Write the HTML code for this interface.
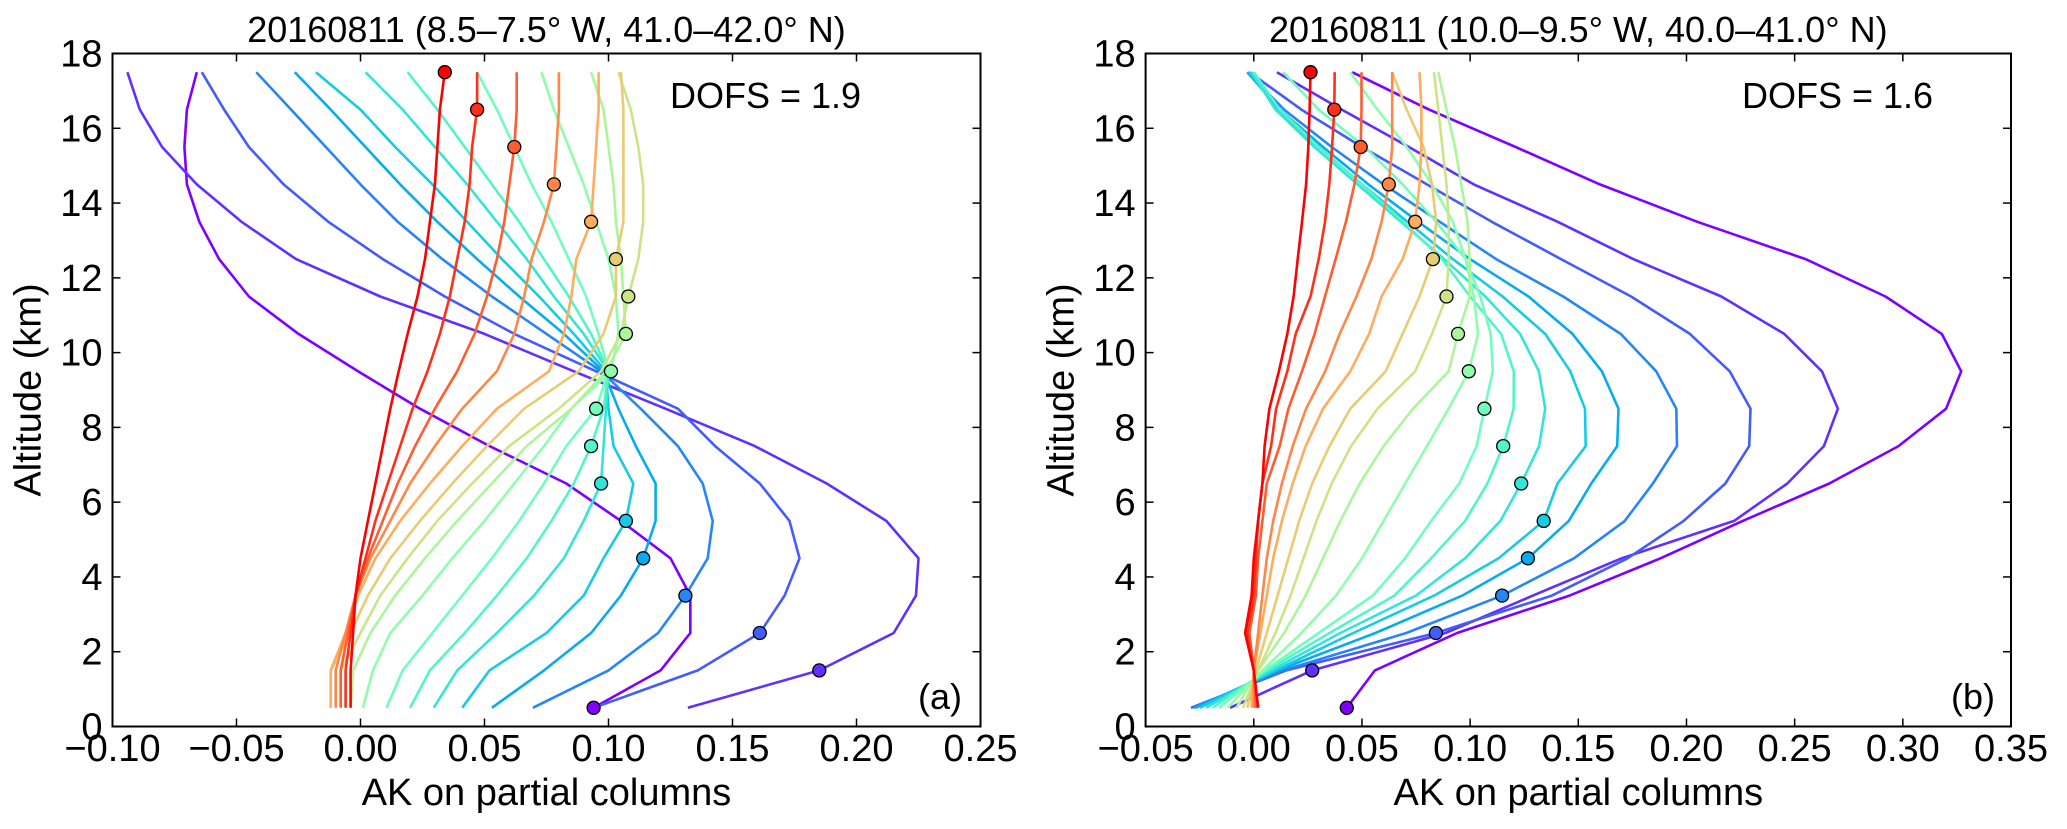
<!DOCTYPE html>
<html><head><meta charset="utf-8"><style>
html,body{margin:0;padding:0;background:#fff;}
svg{display:block;font-family:"Liberation Sans",sans-serif;}
</style></head><body>
<svg id="chart" width="2067" height="829" viewBox="0 0 2067 829" xmlns="http://www.w3.org/2000/svg"></svg>
<script>
// altitude levels (km)
const altitudes = [0.5,1.5,2.5,3.5,4.5,5.5,6.5,7.5,8.5,9.5,10.5,11.5,12.5,13.5,14.5,15.5,16.5,17.5];
const yTicks = [0,2,4,6,8,10,12,14,16,18];
const xTicksA = [-0.10,-0.05,0.00,0.05,0.10,0.15,0.20,0.25];
const xTicksB = [-0.05,0.00,0.05,0.10,0.15,0.20,0.25,0.30,0.35];
const xTickLabelsA = ["\u22120.10","\u22120.05","0.00","0.05","0.10","0.15","0.20","0.25"];
const xTickLabelsB = ["\u22120.05","0.00","0.05","0.10","0.15","0.20","0.25","0.30","0.35"];
// panel (a) kernels, index = kernel level
const kernelsA = [
[0.094,0.121,0.133,0.133,0.125,0.105,0.083,0.052,0.024,-0.001,-0.025,-0.045,-0.057,-0.065,-0.070,-0.071,-0.070,-0.066],
[0.132,0.185,0.215,0.224,0.225,0.212,0.188,0.159,0.123,0.086,0.050,0.008,-0.026,-0.048,-0.066,-0.080,-0.089,-0.094],
[0.094,0.136,0.161,0.171,0.177,0.173,0.161,0.143,0.128,0.095,0.062,0.034,0.009,-0.013,-0.031,-0.045,-0.055,-0.064],
[0.0695,0.100,0.120,0.131,0.140,0.142,0.138,0.128,0.113,0.097,0.075,0.053,0.033,0.015,0.000,-0.014,-0.028,-0.042],
[0.053,0.074,0.093,0.105,0.114,0.119,0.119,0.111,0.104,0.098,0.082,0.064,0.047,0.031,0.016,0.002,-0.012,-0.0265],
[0.041,0.052,0.075,0.090,0.098,0.107,0.110,0.102,0.100,0.099,0.086,0.072,0.057,0.043,0.029,0.014,0.000,-0.018],
[0.0295,0.039,0.055,0.070,0.082,0.090,0.097,0.098,0.099,0.100,0.090,0.078,0.067,0.055,0.043,0.030,0.017,0.002],
[0.020,0.028,0.042,0.055,0.067,0.077,0.086,0.093,0.098,0.100,0.093,0.084,0.074,0.064,0.053,0.042,0.031,0.019],
[0.0105,0.017,0.029,0.041,0.053,0.064,0.074,0.083,0.095,0.100,0.096,0.091,0.084,0.077,0.069,0.062,0.055,0.047],
[0.001,0.005,0.012,0.025,0.037,0.050,0.062,0.074,0.085,0.101,0.104,0.103,0.100,0.095,0.090,0.084,0.078,0.073],
[-0.004,-0.003,0.004,0.014,0.026,0.039,0.053,0.067,0.085,0.099,0.107,0.106,0.105,0.103,0.102,0.100,0.098,0.093],
[-0.008,-0.008,0.000,0.008,0.019,0.031,0.045,0.060,0.080,0.097,0.105,0.108,0.112,0.114,0.114,0.112,0.109,0.104],
[-0.012,-0.012,-0.004,0.003,0.012,0.024,0.037,0.051,0.066,0.088,0.098,0.103,0.103,0.106,0.106,0.106,0.106,0.105],
[-0.012,-0.012,-0.006,-0.001,0.006,0.016,0.028,0.041,0.055,0.076,0.082,0.085,0.087,0.093,0.094,0.095,0.096,0.096],
[-0.010,-0.010,-0.006,-0.002,0.004,0.012,0.020,0.030,0.041,0.055,0.062,0.066,0.069,0.074,0.078,0.079,0.080,0.080],
[-0.008,-0.008,-0.005,-0.002,0.003,0.009,0.015,0.022,0.030,0.039,0.046,0.051,0.055,0.058,0.060,0.062,0.063,0.063],
[-0.006,-0.006,-0.004,-0.002,0.002,0.006,0.011,0.016,0.021,0.027,0.032,0.036,0.039,0.042,0.044,0.045,0.047,0.047],
[-0.004,-0.004,-0.003,-0.002,0.000,0.003,0.006,0.009,0.012,0.0154,0.019,0.023,0.026,0.028,0.030,0.031,0.032,0.034]
];
// panel (b) kernels
const kernelsB = [
[0.043,0.056,0.094,0.146,0.188,0.226,0.266,0.298,0.320,0.327,0.318,0.292,0.255,0.205,0.160,0.121,0.081,0.0455],
[-0.011,0.027,0.0886,0.129,0.170,0.222,0.2466,0.2635,0.270,0.2626,0.2452,0.2161,0.1754,0.1405,0.1017,0.0717,0.0407,0.0107],
[-0.029,0.015,0.0842,0.1378,0.1728,0.1987,0.218,0.229,0.2296,0.22,0.2016,0.1744,0.142,0.110,0.080,0.050,0.022,-0.002],
[-0.028,0.0135,0.0705,0.1148,0.148,0.1715,0.1845,0.1956,0.1953,0.186,0.1696,0.143,0.112,0.086,0.060,0.036,0.014,-0.003],
[-0.027,0.011,0.0562,0.0964,0.1267,0.1456,0.156,0.168,0.1686,0.1609,0.1473,0.127,0.100,0.076,0.053,0.032,0.012,-0.003],
[-0.025,0.010,0.046,0.0834,0.1132,0.134,0.1404,0.1534,0.1531,0.1463,0.1347,0.115,0.092,0.071,0.050,0.030,0.011,-0.002],
[-0.022,0.008,0.040,0.075,0.0977,0.114,0.1236,0.1319,0.1347,0.1318,0.1231,0.107,0.088,0.068,0.048,0.028,0.010,-0.001],
[-0.019,0.006,0.035,0.065,0.082,0.0977,0.108,0.1153,0.1201,0.1202,0.1143,0.100,0.087,0.069,0.050,0.030,0.012,0.000],
[-0.016,0.005,0.030,0.055,0.070,0.082,0.095,0.103,0.1066,0.1105,0.1095,0.1047,0.0979,0.0843,0.0688,0.0514,0.030,0.0136],
[-0.012,0.004,0.022,0.038,0.050,0.060,0.070,0.080,0.0901,0.0994,0.1037,0.1017,0.0979,0.0921,0.0824,0.0707,0.0572,0.0446],
[-0.008,0.002,0.014,0.024,0.032,0.040,0.049,0.060,0.0736,0.0901,0.0944,0.0998,0.0998,0.0988,0.0959,0.093,0.0891,0.0853],
[-0.005,0.002,0.010,0.017,0.023,0.029,0.036,0.045,0.0572,0.0746,0.0824,0.0891,0.0901,0.0901,0.0891,0.0872,0.0853,0.0833],
[-0.003,0.001,0.006,0.011,0.016,0.021,0.027,0.035,0.0446,0.061,0.0688,0.0766,0.0828,0.0843,0.0824,0.0785,0.0707,0.064],
[-0.001,0.000,0.003,0.006,0.009,0.013,0.018,0.024,0.032,0.0446,0.0533,0.0591,0.0688,0.0746,0.0766,0.0775,0.0775,0.0766],
[0.000,0.000,0.002,0.004,0.006,0.009,0.013,0.018,0.0242,0.033,0.0397,0.0475,0.0543,0.0591,0.0624,0.064,0.064,0.064],
[0.001,0.000,-0.002,0.001,0.002,0.004,0.006,0.012,0.016,0.0223,0.0281,0.0329,0.0378,0.0426,0.0465,0.0494,0.0498,0.0498],
[0.002,0.000,-0.003,0.000,0.001,0.002,0.004,0.008,0.0103,0.0155,0.0194,0.0262,0.030,0.0329,0.0349,0.0362,0.0372,0.0374],
[0.002,0.000,-0.004,-0.001,0.000,0.002,0.004,0.005,0.0072,0.0116,0.0155,0.0184,0.0203,0.0223,0.0242,0.0252,0.0258,0.0262]
];

const NS = "http://www.w3.org/2000/svg";
const svg = document.getElementById('chart');
function mk(tag, attrs, parent){ const e=document.createElementNS(NS,tag); for(const k in attrs) e.setAttribute(k,attrs[k]); (parent||svg).appendChild(e); return e; }
function rainbow(t){
  const r=Math.min(1,Math.abs(2*t-0.5)), g=Math.sin(Math.PI*t), b=Math.cos(Math.PI*t/2);
  const h=v=>Math.round(Math.max(0,Math.min(1,v))*255);
  return `rgb(${h(r)},${h(g)},${h(b)})`;
}
const Y0=726.5, Y1=53.5;
function yScale(a){ return Y0 - a/18*(Y0-Y1); }

function panel(opt){
  const {x0,x1,xmin,xmax,ticks,tickLabels,kernels,title,dofs,dofsX,tag,tagX,id} = opt;
  const xs = v => x0 + (v-xmin)/(xmax-xmin)*(x1-x0);
  const g = mk('g',{});
  
  
  const lg = mk('g',{},g);
  
  
  const n = kernels.length;
  kernels.forEach((vals,k)=>{
    const col = rainbow(k/(n-1));
    const pts = vals.map((v,i)=>xs(v).toFixed(1)+','+yScale(altitudes[i]).toFixed(1)).join(' ');
    const pl = mk('polyline',{points:pts,fill:'none',stroke:col,'stroke-width':2.6,'stroke-linejoin':'round'},lg);
    
    
  });
  kernels.forEach((vals,k)=>{
    const col = rainbow(k/(n-1));
    const c = mk('circle',{cx:xs(vals[k]).toFixed(1),cy:yScale(altitudes[k]).toFixed(1),r:6.5,fill:col,stroke:'#000','stroke-width':1.3},lg);
    
    
  });
  const fr = mk('rect',{x:x0,y:Y1,width:x1-x0,height:Y0-Y1,fill:'none',stroke:'#000','stroke-width':2},g);
  
  
  ticks.forEach((t,i)=>{
    const x=xs(t);
    mk('line',{x1:x,x2:x,y1:Y0,y2:Y0-8,stroke:'#000','stroke-width':1.5},g);
    mk('line',{x1:x,x2:x,y1:Y1,y2:Y1+8,stroke:'#000','stroke-width':1.5},g);
    const tx = mk('text',{x:x,y:761,'text-anchor':'middle','font-size':38},g);
    tx.textContent = tickLabels[i];
    
    
  });
  yTicks.forEach(t=>{
    const y=yScale(t);
    mk('line',{x1:x0,x2:x0+8,y1:y,y2:y,stroke:'#000','stroke-width':1.5},g);
    mk('line',{x1:x1,x2:x1-8,y1:y,y2:y,stroke:'#000','stroke-width':1.5},g);
    const ty = mk('text',{x:x0-10,y:y+13,'text-anchor':'end','font-size':38},g);
    ty.textContent = String(t);
    
    
  });
  const xl = mk('text',{x:(x0+x1)/2,y:805,'text-anchor':'middle','font-size':38},g);
  xl.textContent='AK on partial columns';
  
  
  const yl = mk('text',{x:0,y:0,'text-anchor':'middle','font-size':38,transform:`translate(${x0-72},${(Y0+Y1)/2}) rotate(-90)`},g);
  yl.textContent='Altitude (km)';
  
  
  const tt = mk('text',{x:(x0+x1)/2,y:42,'text-anchor':'middle','font-size':36},g);
  tt.textContent=title;
  
  
  const dt = mk('text',{x:dofsX,y:108,'font-size':36},g);
  dt.textContent=dofs;
  
  
  const pt = mk('text',{x:tagX,y:709,'text-anchor':'end','font-size':36},g);
  pt.textContent=tag;
  
  
}
panel({x0:112.5,x1:980.5,xmin:-0.10,xmax:0.25,ticks:xTicksA,tickLabels:xTickLabelsA,kernels:kernelsA,
  title:'20160811 (8.5\u20137.5\u00b0 W, 41.0\u201342.0\u00b0 N)',dofs:'DOFS = 1.9',dofsX:670,tag:'(a)',tagX:962,id:'panel-a'});
panel({x0:1145.6,x1:2011,xmin:-0.05,xmax:0.35,ticks:xTicksB,tickLabels:xTickLabelsB,kernels:kernelsB,
  title:'20160811 (10.0\u20139.5\u00b0 W, 40.0\u201341.0\u00b0 N)',dofs:'DOFS = 1.6',dofsX:1742,tag:'(b)',tagX:1995,id:'panel-b'});
</script>
</body></html>
